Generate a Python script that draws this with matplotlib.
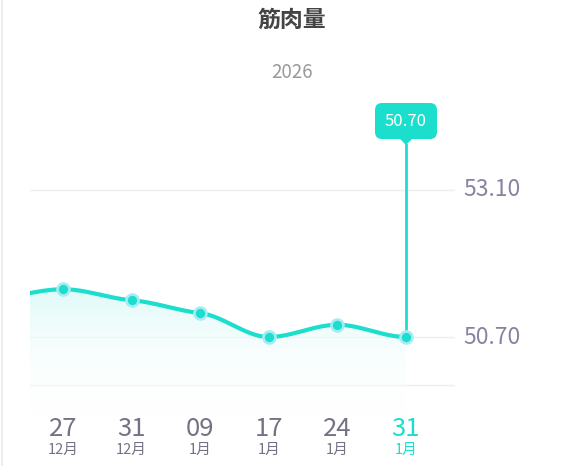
import numpy as np
import matplotlib
matplotlib.use("Agg")
import matplotlib.pyplot as plt
import matplotlib.transforms as mtransforms
from matplotlib.lines import Line2D
from matplotlib.patches import FancyBboxPatch, Polygon

plt.rcParams['font.family'] = ['Noto Sans CJK SC', 'DejaVu Sans']

# data
title = "筋肉量"
year = "2026"
days = ["27", "31", "09", "17", "24", "31"]
months = ["12月", "12月", "1月", "1月", "1月", "1月"]
values = [51.48, 51.30, 51.09, 50.70, 50.90, 50.70]
lead_in_value = 51.35      # earlier point, scrolled out of view on the left
y_ticks = [53.10, 50.70]

CYAN = "#1bdfcc"
HALO = "#a6ecf6"
GRID = "#efeff1"
TICK = "#737384"
YLAB = "#8784a0"

W, H, DPI = 584, 466, 100
fig = plt.figure(figsize=(W / DPI, H / DPI), dpi=DPI)

# axes placement in pixels (left, top, right, bottom)
left, top, right, bottom = 30, 95, 455, 415
ax = fig.add_axes([left / W, 1 - bottom / H, (right - left) / W, (bottom - top) / H])

# scale: 53.10 at y=190px and 50.70 at y=337px
ppu = (337 - 190) / (y_ticks[0] - y_ticks[1])
ymin = y_ticks[1] - (bottom - 337) / ppu
ymax = y_ticks[1] + (337 - top) / ppu
step = 68.6
xmin, xmax = -(63 - left) / step, (right - 63) / step


def smooth_curve(xs, ys, n=40, tension=0.45):
    """monotone cubic hermite with damped tangents (flat-ish at points)"""
    xs = np.asarray(xs, float)
    ys = np.asarray(ys, float)
    h = np.diff(xs)
    s = np.diff(ys) / h
    m = np.zeros_like(ys)
    for i in range(1, len(ys) - 1):
        if s[i - 1] * s[i] > 0:
            m[i] = tension * 3 * (h[i - 1] + h[i]) / ((2 * h[i] + h[i - 1]) / s[i - 1] + (h[i] + 2 * h[i - 1]) / s[i])
    outx, outy = [], []
    for i in range(len(h)):
        t = np.linspace(0, 1, n)
        h00 = 2 * t**3 - 3 * t**2 + 1
        h10 = t**3 - 2 * t**2 + t
        h01 = -2 * t**3 + 3 * t**2
        h11 = t**3 - t**2
        outx.append(xs[i] + t * h[i])
        outy.append(h00 * ys[i] + h10 * h[i] * m[i] + h01 * ys[i + 1] + h11 * h[i] * m[i + 1])
    return np.concatenate(outx), np.concatenate(outy)


x = np.arange(len(values))
cx, cy = smooth_curve(np.r_[-1, x], [lead_in_value] + values)

# gradient fill under the curve
poly = ax.fill_between(cx, cy, ymin, color="none", lw=0)
grad = np.linspace(0, 1, 256).reshape(-1, 1)
cmap = matplotlib.colors.LinearSegmentedColormap.from_list(
    "g", [(1, 1, 1, 0), (0.88, 0.985, 0.975, 1)])
img = ax.imshow(grad, cmap=cmap, aspect="auto", origin="lower",
                extent=[cx.min(), cx.max(), ymin, max(values)], zorder=1)
img.set_clip_path(poly.get_paths()[0], transform=ax.transData)
ax.set_xlim(xmin, xmax)
ax.set_ylim(ymin, ymax)

# grid lines
for v in y_ticks:
    ax.axhline(v, color=GRID, lw=1, zorder=0)
ax.axhline(ymin + (bottom - 385) / ppu, color=GRID, lw=1, zorder=0)

ax.plot(cx, cy, color=CYAN, lw=3, zorder=3, solid_capstyle="round")
ax.scatter(x, values, s=110, color=HALO, zorder=4, lw=0)
ax.scatter(x, values, s=45, color=CYAN, zorder=5, lw=0)

# tooltip on the last point
last = len(values) - 1
box_bot = values[-1] + (337 - 139) / ppu
tip = values[-1] + (337 - 145) / ppu
ax.plot([last, last], [values[-1], tip], color=CYAN, lw=2, zorder=2, clip_on=False)
ax.add_patch(Polygon([[last - 7 / step, box_bot + 1 / ppu], [last + 7 / step, box_bot + 1 / ppu],
                      [last, tip]], closed=True, fc=CYAN, ec="none", clip_on=False, zorder=6))
box_h = 36 / ppu
box_w = 62 / step
ax.add_patch(FancyBboxPatch((last - box_w / 2, box_bot), box_w, box_h,
                            boxstyle="round,pad=0,rounding_size=%f" % (7 / step),
                            mutation_aspect=step / ppu,
                            fc=CYAN, ec="none", clip_on=False, zorder=6))
ax.text(last, box_bot + box_h / 2, f"{values[-1]:.2f}", color="white",
        fontsize=12, ha="center", va="center", zorder=7)

# right-hand value labels
ytr = mtransforms.blended_transform_factory(ax.transAxes, ax.transData)
for v in y_ticks:
    ax.text(1 + 8 / (right - left), v, f"{v:.2f}", transform=ytr,
            ha="left", va="center", color=YLAB, fontsize=16.5, fontweight="light")

# x labels: day over month
tr = mtransforms.blended_transform_factory(ax.transData, fig.transFigure)
for i, (d, mo) in enumerate(zip(days, months)):
    col = CYAN if i == last else TICK
    ax.text(i, 1 - 429 / H, d, transform=tr, ha="center", va="center", fontsize=18.5,
            color=col, fontweight="light")
    ax.text(i, 1 - 450 / H, mo, transform=tr, ha="center", va="center", fontsize=10.5,
            color=col, fontweight="light")

ax.set_axis_off()

fig.text(0.5, 1 - 20 / H, title, ha="center", va="center", fontsize=16.5,
         fontweight="bold", color="#444444")
fig.text(0.5, 1 - 72 / H, year, ha="center", va="center", fontsize=13.5, color="#999999")
fig.add_artist(Line2D([1.5 / W, 1.5 / W], [0, 1], color="#eeeeee", lw=1.5))

fig.savefig("out.png", dpi=DPI)
